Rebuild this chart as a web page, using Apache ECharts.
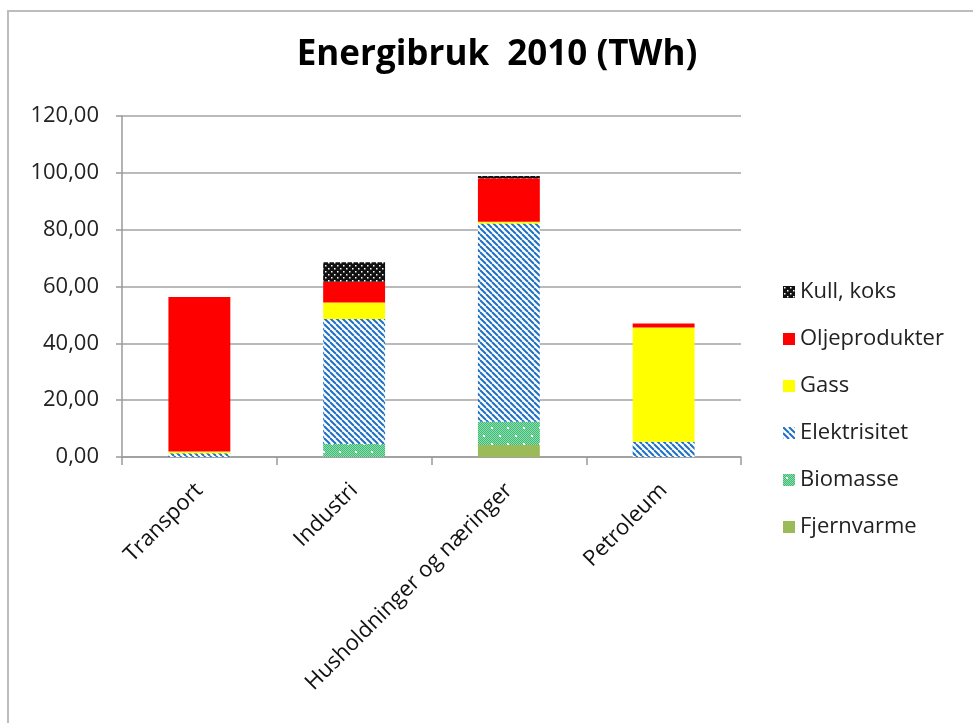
<!DOCTYPE html>
<html>
<head>
<meta charset="utf-8">
<script src="https://cdn.jsdelivr.net/npm/echarts@6/dist/echarts.min.js"></script>
<style>
  html, body { margin: 0; padding: 0; background: #fff; }
  #chart { width: 973px; height: 723px; }
</style>
</head>
<body>
<div id="chart"></div>
<script>
// energibruk per sektor, TWh
var categories = ['Transport', 'Industri', 'Husholdninger og næringer', 'Petroleum'];
var fjernvarme   = [0,    0,    4.2,  0];
var biomasse     = [0,    4.6,  8.2,  0];
var elektrisitet = [1.3,  44.0, 69.8, 5.4];
var gass         = [0.6,  5.8,  0.6,  40.2];
var oljeprodukter = [54.4, 7.3, 15.3, 1.4];
var kullKoks     = [0,    6.8,  0.8,  0];
var yTicks = [0, 20, 40, 60, 80, 100, 120];

var FONT = '"Open Sans", sans-serif';

// fill patterns like the excel ones
function makeTile(w, h, draw) {
  var c = document.createElement('canvas');
  c.width = w; c.height = h;
  draw(c.getContext('2d'));
  return { image: c, repeat: 'repeat' };
}

var stripePattern = makeTile(6, 6, function (ctx) {
  ctx.fillStyle = '#fff';
  ctx.fillRect(0, 0, 6, 6);
  ctx.strokeStyle = '#1f6fc4';
  ctx.lineWidth = 2;
  [-6, 0, 6].forEach(function (o) {
    ctx.beginPath();
    ctx.moveTo(o, 0);
    ctx.lineTo(o + 6, 6);
    ctx.stroke();
  });
});

var kullPattern = makeTile(6, 6, function (ctx) {
  ctx.fillStyle = '#111';
  ctx.fillRect(0, 0, 6, 6);
  ctx.fillStyle = '#fff';
  ctx.fillRect(1, 1, 1.5, 1.5);
  ctx.fillRect(4, 4, 1.5, 1.5);
});

var bioPattern = makeTile(16, 16, function (ctx) {
  ctx.fillStyle = '#8fdcb0';
  ctx.fillRect(0, 0, 16, 16);
  ctx.fillStyle = '#3dbb72';
  for (var x = 0; x < 16; x++) {
    for (var y = 0; y < 16; y++) {
      if ((x + y) % 2 === 0) ctx.fillRect(x, y, 1, 1);
    }
  }
  ctx.fillStyle = '#fff';
  ctx.fillRect(3, 3, 2, 2);
  ctx.fillRect(11, 11, 2, 2);
});

function fmt(v) {
  return v.toFixed(2).replace('.', ',');
}

function barSeries(name, data, color) {
  return {
    name: name,
    type: 'bar',
    stack: 'total',
    barWidth: '40%',
    data: data,
    itemStyle: { color: color },
    emphasis: { disabled: true }
  };
}

var chart = echarts.init(document.getElementById('chart'));
chart.setOption({
  animation: false,
  backgroundColor: '#fff',
  graphic: [{
    type: 'rect',
    shape: { x: 8, y: 11, width: 975, height: 720 },
    style: { fill: 'none', stroke: '#bdbdbd', lineWidth: 2 },
    silent: true
  }],
  title: {
    text: 'Energibruk  2010 (TWh)',
    left: 492,
    textAlign: 'center',
    top: 33,
    textStyle: { fontFamily: FONT, fontSize: 35, fontWeight: 'bold', color: '#000' }
  },
  legend: {
    orient: 'vertical',
    left: 778,
    top: 275,
    itemWidth: 12,
    itemHeight: 12,
    itemGap: 23,
    icon: 'rect',
    data: ['Kull, koks', 'Oljeprodukter', 'Gass', 'Elektrisitet', 'Biomasse', 'Fjernvarme'],
    textStyle: { fontFamily: FONT, fontSize: 22, color: '#222', lineHeight: 24 }
  },
  grid: { left: 122, right: 232, top: 116, bottom: 266, containLabel: false },
  xAxis: {
    type: 'category',
    data: categories,
    boundaryGap: true,
    axisLine: { lineStyle: { color: '#9a9a9a', width: 1.5 } },
    axisTick: { show: true, length: 8, lineStyle: { color: '#9a9a9a', width: 1.5 } },
    axisLabel: {
      rotate: 45,
      margin: 30,
      interval: 0,
      fontFamily: FONT,
      fontSize: 22,
      color: '#111'
    }
  },
  yAxis: {
    type: 'value',
    min: yTicks[0],
    max: yTicks[yTicks.length - 1],
    interval: 20,
    axisLine: { show: true, lineStyle: { color: '#9a9a9a', width: 1.5 } },
    axisTick: { show: true, length: 6, lineStyle: { color: '#9a9a9a', width: 1.5 } },
    splitLine: { lineStyle: { color: '#a3a3a3', width: 1.5 } },
    axisLabel: {
      margin: 23,
      fontFamily: FONT,
      fontSize: 22,
      color: '#222',
      formatter: fmt
    }
  },
  series: [
    barSeries('Fjernvarme', fjernvarme, '#9bbb59'),
    barSeries('Biomasse', biomasse, bioPattern),
    barSeries('Elektrisitet', elektrisitet, stripePattern),
    barSeries('Gass', gass, '#ffff00'),
    barSeries('Oljeprodukter', oljeprodukter, '#ff0000'),
    barSeries('Kull, koks', kullKoks, kullPattern)
  ]
});
</script>
</body>
</html>
